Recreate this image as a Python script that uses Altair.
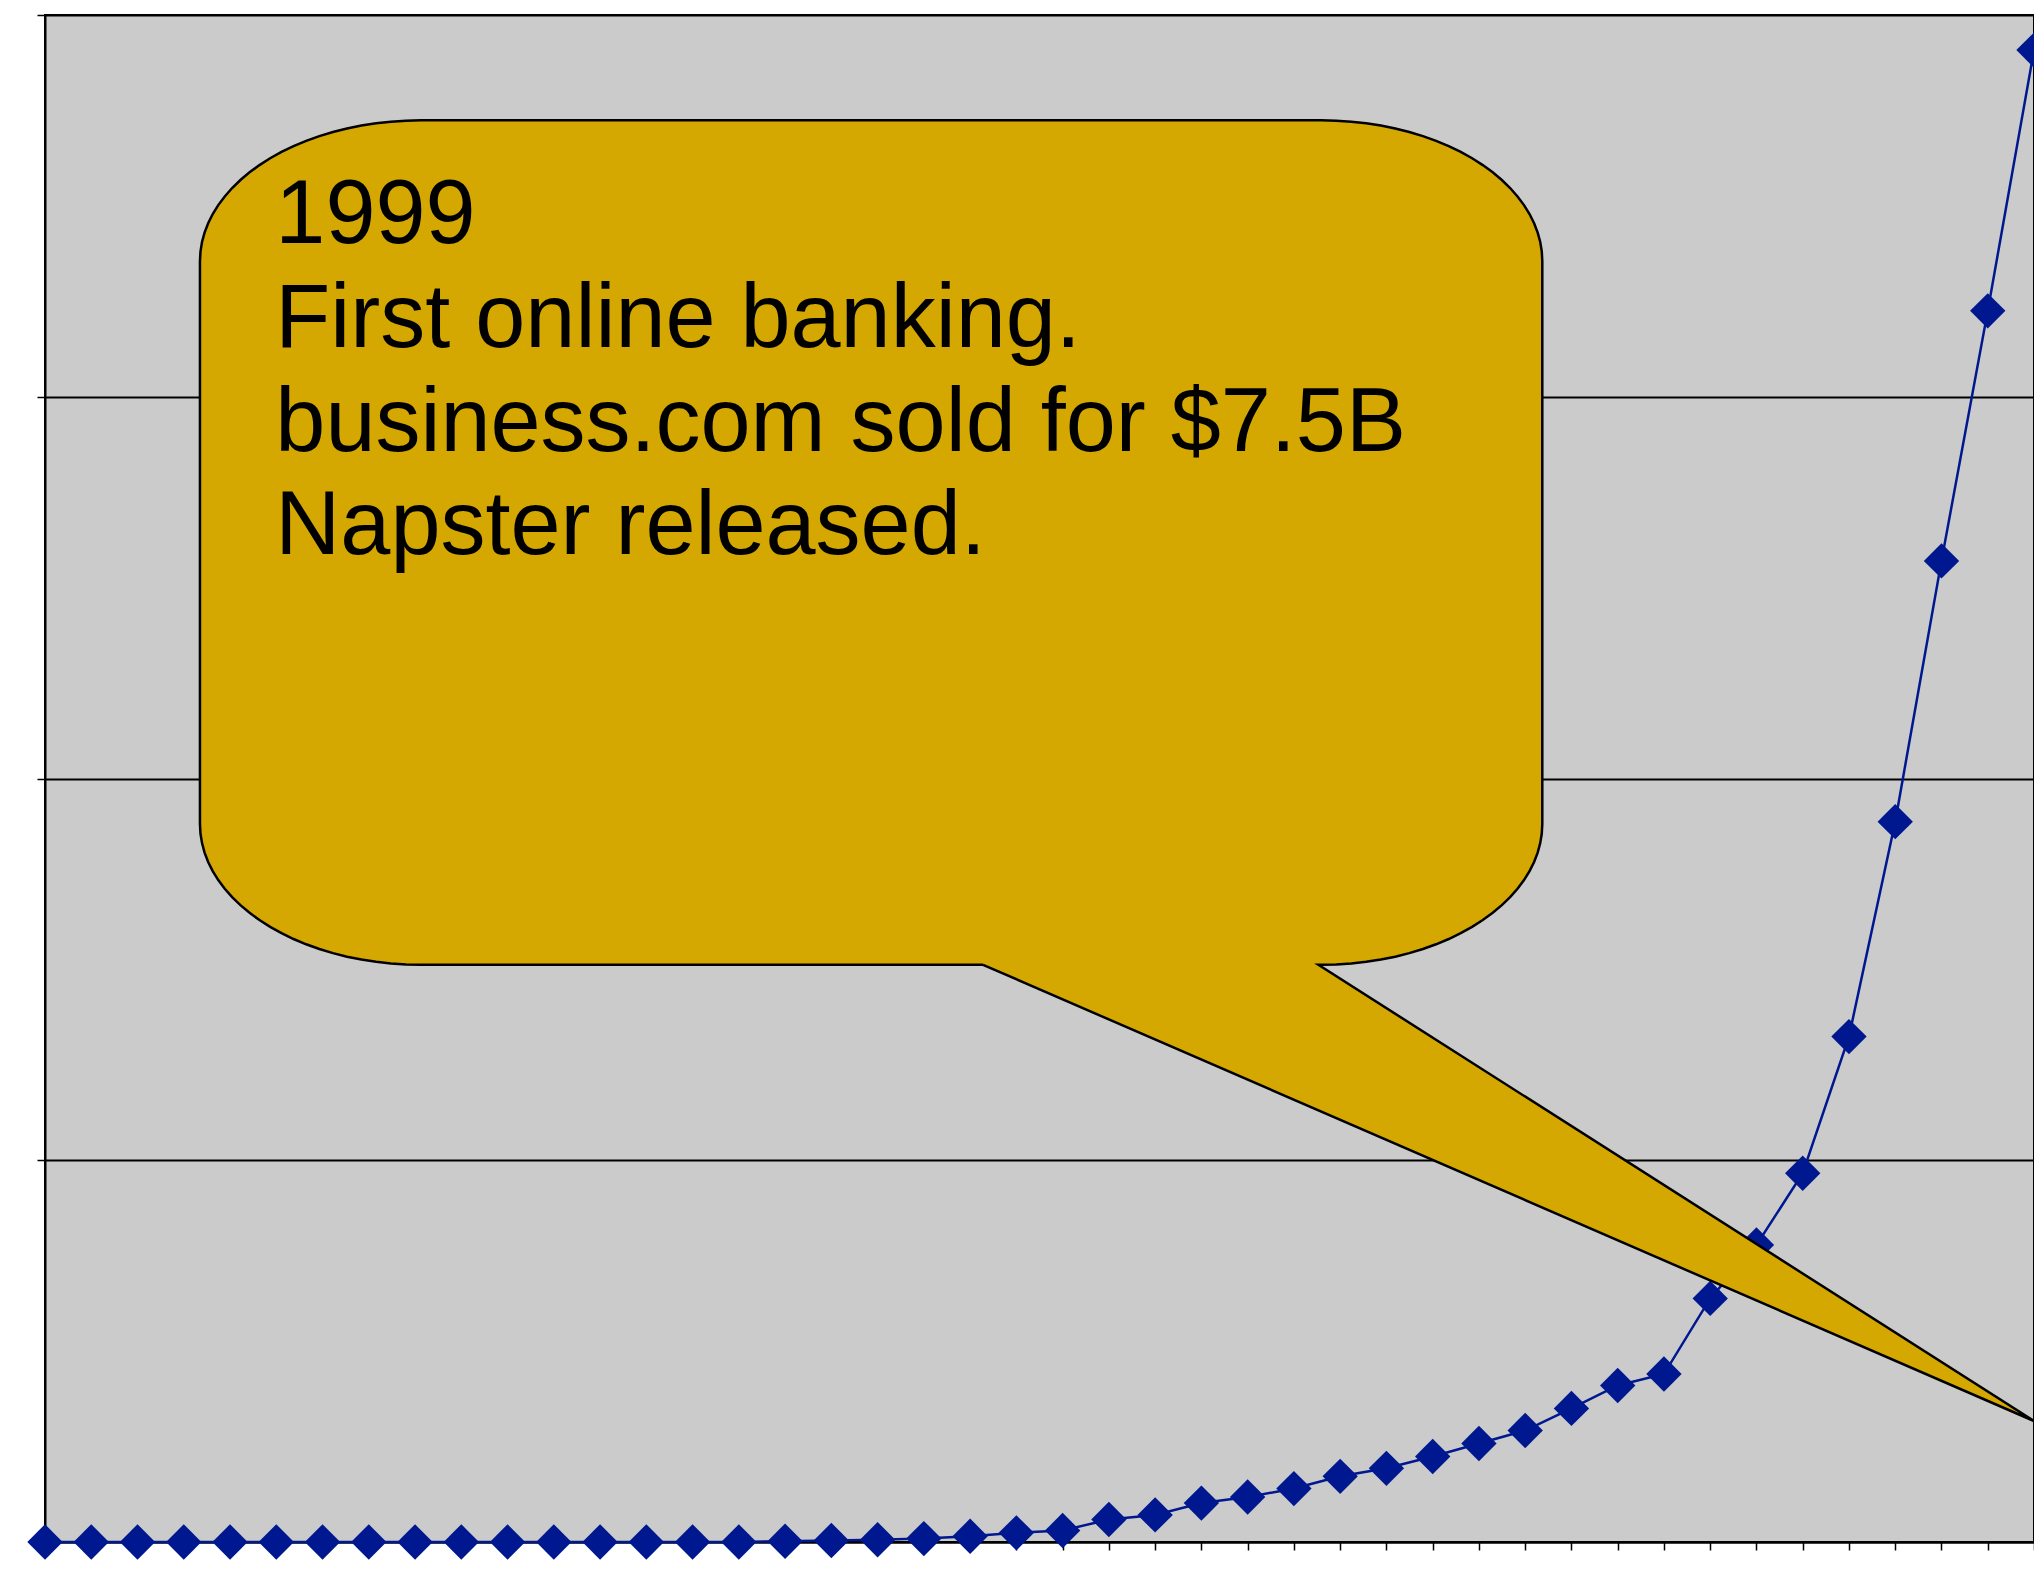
import altair as alt
import pandas as pd
import numpy as np

# ---- data (y in gridline units, no labels shown) ----
steps = list(range(44))
values = [0.0, 0.0, 0.0, 0.0, 0.0, 0.0, 0.0, 0.0, 0.0, 0.0, 0.0, 0.0, 0.0, 0.0, 0.0, 0.0,
          0.002, 0.004, 0.006, 0.009, 0.015, 0.024, 0.030, 0.059, 0.071, 0.102,
          0.118, 0.140, 0.172, 0.193, 0.224, 0.258, 0.292, 0.350, 0.410, 0.440,
          0.638, 0.778, 0.966, 1.324, 1.887, 2.570, 3.225, 3.908]
y_ticks = [0, 1, 2, 3, 4]

callout_lines = ["1999", "First online banking.", "business.com sold for $7.5B", "Napster released."]
callout_line_y = [3.403, 3.130, 2.857, 2.587]
callout_text_x = 4.98

# callout bubble geometry (data units)
BX0, BX1 = 3.35, 32.37
BY0, BY1 = 1.512, 3.724
RX, RY = 4.78, 0.369
TAIL_A_X, TAIL_B_X = 20.28, 27.53
TIP_X, TIP_Y = 43.0, 0.317

LINE_BLUE = "#00188F"
GOLD = "#D4A800"

df = pd.DataFrame({"step": steps, "value": values})

# build bubble outline
def arc(cx, cy, t0, t1, n=24):
    t = np.linspace(t0, t1, n)
    return list(zip(cx + RX * np.cos(t), cy + RY * np.sin(t)))

pts = [(TAIL_A_X, BY0), (TIP_X, TIP_Y), (TAIL_B_X, BY0)]
pts += arc(BX1 - RX, BY0 + RY, -np.pi / 2, 0)
pts += arc(BX1 - RX, BY1 - RY, 0, np.pi / 2)
pts += arc(BX0 + RX, BY1 - RY, np.pi / 2, np.pi)
pts += arc(BX0 + RX, BY0 + RY, np.pi, 1.5 * np.pi)
pts += [(TAIL_A_X, BY0)]
bubble = pd.DataFrame({"step": [p[0] for p in pts], "value": [p[1] for p in pts],
                       "ord": list(range(len(pts)))})

text_df = pd.DataFrame({"step": [callout_text_x] * len(callout_lines),
                        "value": callout_line_y, "label": callout_lines})

xs = alt.X("step:Q",
           scale=alt.Scale(domain=[0, 43], nice=False, zero=False),
           axis=alt.Axis(values=steps, labels=False, title=None, grid=False,
                         tickSize=8, tickColor="black", tickWidth=1.5,
                         domainColor="black", domainWidth=2))
ys = alt.Y("value:Q",
           scale=alt.Scale(domain=[0, 4], nice=False, zero=False),
           axis=alt.Axis(values=y_ticks, labels=False, title=None, grid=True,
                         gridColor="black", gridWidth=2, gridOpacity=1,
                         tickSize=8, tickColor="black", tickWidth=1.5,
                         domainColor="black", domainWidth=2))

line = alt.Chart(df).mark_line(color=LINE_BLUE, strokeWidth=2.5).encode(x=xs, y=ys)
diamonds = alt.Chart(df).mark_point(shape="diamond", filled=True, size=1250,
                                    color=LINE_BLUE, opacity=1).encode(x=xs, y=ys)
bubble_layer = alt.Chart(bubble).mark_line(fill=GOLD, stroke="black", strokeWidth=2.5,
                                           fillOpacity=1, interpolate="linear").encode(
    x=xs, y=ys, order="ord:Q")
text_layer = alt.Chart(text_df).mark_text(align="left", baseline="alphabetic",
                                          font="Liberation Sans", fontSize=90,
                                          color="black").encode(x=xs, y=ys, text="label:N")

chart = alt.layer(line, diamonds, bubble_layer, text_layer).properties(
    width=1989, height=1527,
    padding={"left": 37, "top": 7, "right": 0, "bottom": 20},
    autosize=alt.AutoSizeParams(type="none"),
    background="white",
).configure_view(fill="#CBCBCB", stroke="black", strokeWidth=2)

chart.save("out.html", embed_options={"renderer": "svg", "actions": False})
